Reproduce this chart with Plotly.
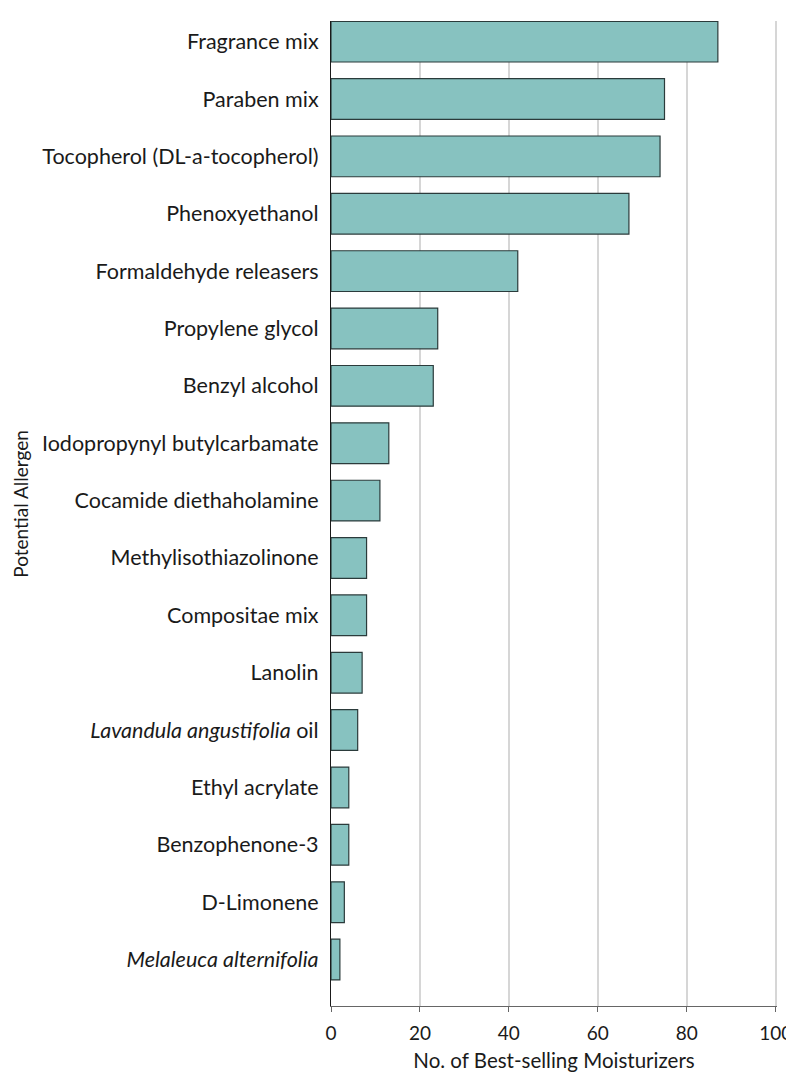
import plotly.graph_objects as go

allergens = [
    "Fragrance mix",
    "Paraben mix",
    "Tocopherol (DL-a-tocopherol)",
    "Phenoxyethanol",
    "Formaldehyde releasers",
    "Propylene glycol",
    "Benzyl alcohol",
    "Iodopropynyl butylcarbamate",
    "Cocamide diethaholamine",
    "Methylisothiazolinone",
    "Compositae mix",
    "Lanolin",
    "<i>Lavandula angustifolia</i> oil",
    "Ethyl acrylate",
    "Benzophenone-3",
    "D-Limonene",
    "<i>Melaleuca alternifolia</i>",
]
counts = [87, 75, 74, 67, 42, 24, 23, 13, 11, 8, 8, 7, 6, 4, 4, 3, 2]

x_ticks = [0, 20, 40, 60, 80, 100]

fig = go.Figure()
fig.add_trace(go.Bar(
    x=counts,
    y=allergens,
    orientation="h",
    width=0.71,
    marker=dict(color="#87c2c0", line=dict(color="#2b3b3b", width=1.2)),
))

# page body adds an 8px margin, so the figure is sized to fit inside it
fig.update_layout(
    width=786,
    height=1065,
    margin=dict(l=323, r=17, t=13, b=67),
    plot_bgcolor="white",
    paper_bgcolor="white",
    font=dict(family="Lato", size=21.5, color="#1a1a1a"),
    showlegend=False,
)

# y axis title as an annotation so it sits at the far left like the original
fig.add_annotation(
    text="Potential Allergen",
    textangle=-90,
    xref="paper", yref="paper",
    x=-0.695, y=0.51,
    xanchor="center", yanchor="middle",
    showarrow=False,
    font=dict(size=19),
)

fig.update_xaxes(
    range=[0, 100.3],
    tickvals=x_ticks,
    automargin=False,
    showgrid=True,
    gridcolor="#d6d6d6",
    gridwidth=1.5,
    zeroline=False,
    showline=True,
    linecolor="#666666",
    linewidth=1.2,
    ticks="outside",
    ticklen=5,
    tickcolor="#666666",
    tickfont=dict(size=19),
    ticklabelstandoff=5,
    ticklabeloverflow="allow",
    title=dict(text="No. of Best-selling Moisturizers", standoff=10, font=dict(size=20.5)),
)

fig.update_yaxes(
    type="category",
    categoryorder="array",
    categoryarray=allergens,
    range=[16.81, -0.36],
    automargin=False,
    showgrid=False,
    showline=True,
    linecolor="#1a1a1a",
    linewidth=1.2,
    ticks="",
    ticklabelstandoff=7,
)

fig.write_html("out.html")
